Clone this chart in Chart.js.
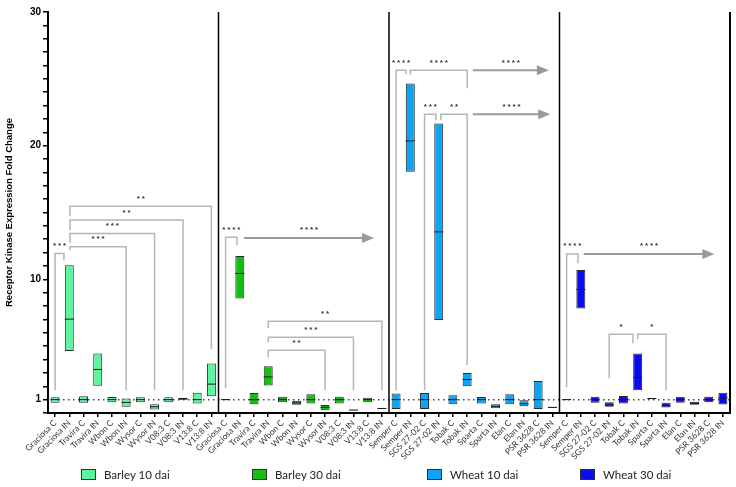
<!DOCTYPE html>
<html>
<head>
<meta charset="utf-8">
<script src="https://cdn.jsdelivr.net/npm/chart.js@4.4.0/dist/chart.umd.min.js"></script>
<style>
  html, body { margin: 0; padding: 0; background: #fff; }
  #wrap { position: relative; width: 736px; height: 487px; }
  #legend { position: absolute; left: 0; top: 468px; width: 736px; height: 14px;
            font-family: Lato, "Open Sans", sans-serif; font-size: 11.5px; color: #222; }
  .item { position: absolute; top: 0; display: flex; align-items: center; white-space: nowrap; }
  .sw { width: 13px; height: 9px; border: 1px solid #333; margin-right: 8px; }
</style>
</head>
<body>
<div id="wrap">
  <canvas id="myChart"></canvas>
  <div id="legend"></div>
</div>
<script>
const barleyCats = ['Graciosa C', 'Graciosa IN', 'Travira C', 'Travira IN', 'Wbon C', 'Wbon IN',
                    'Wysor C', 'Wysor IN', 'V08:3 C', 'V08:3 IN', 'V13:8 C', 'V13:8 IN'];
const wheatCats = ['Semper C', 'Semper IN', 'SGS 27-02 C', 'SGS 27-02 IN', 'Tobak C', 'Tobak IN',
                   'Sparta C', 'Sparta IN', 'Elan C', 'Elan IN', 'PSR 3628 C', 'PSR 3628 IN'];
const seriesNames = ['Barley 10 dai', 'Barley 30 dai', 'Wheat 10 dai', 'Wheat 30 dai'];
const seriesColors = ['#5ef5a0', '#12bf12', '#0ba5f5', '#0b0bf0'];

// min / median / max of fold change per genotype
const barley10Low  = [0.76, 4.63, 0.76, 2.03, 0.80, 0.46, 0.80, 0.27, 0.80, 1.00, 0.72, 1.26];
const barley10Med  = [1.00, 7.02, 1.00, 3.26, 1.00, 0.79, 1.00, 0.47, 1.00, 1.06, 1.00, 2.16];
const barley10High = [1.17, 11.06, 1.26, 4.46, 1.20, 1.09, 1.17, 0.66, 1.17, 1.14, 1.51, 3.71];

const barley30Low  = [0.97, 8.57, 0.66, 2.06, 0.81, 0.61, 0.72, 0.21, 0.72, 0.20, 0.81, 0.31];
const barley30Med  = [1.00, 10.44, 1.00, 2.70, 1.00, 0.76, 1.00, 0.42, 1.00, 0.22, 1.00, 0.34];
const barley30High = [1.03, 11.75, 1.49, 3.50, 1.21, 0.91, 1.41, 0.59, 1.21, 0.25, 1.15, 0.37];

const wheat10Low  = [0.30, 18.04, 0.30, 6.95, 0.66, 2.01, 0.72, 0.36, 0.66, 0.51, 0.30, 0.40];
const wheat10Med  = [1.00, 20.36, 1.00, 13.55, 1.00, 2.50, 1.00, 0.50, 1.00, 0.70, 1.00, 0.42];
const wheat10High = [1.45, 24.65, 1.50, 21.66, 1.33, 2.99, 1.20, 0.66, 1.41, 0.96, 2.40, 0.45];

const wheat30Low  = [0.98, 7.82, 0.76, 0.46, 0.72, 1.71, 1.05, 0.42, 0.76, 0.61, 0.80, 0.64];
const wheat30Med  = [1.00, 9.24, 1.00, 0.60, 1.00, 2.66, 1.08, 0.55, 1.00, 0.72, 1.00, 1.13];
const wheat30High = [1.03, 10.69, 1.21, 0.81, 1.28, 4.46, 1.12, 0.76, 1.21, 0.84, 1.21, 1.51];

const yTickLabels = [1, 10, 20, 30];

// significance brackets: x in category index, y in fold change
const brackets = [
  {x1: 0, x2: 0.62, top: 11.93, b1: 1.71, b2: 11.43, text: '***'},
  {x1: 1.05, x2: 5, top: 12.43, b1: 12.18, b2: 1.71, text: '***'},
  {x1: 1.05, x2: 7, top: 13.43, b1: 12.7, b2: 1.71, text: '***'},
  {x1: 1.05, x2: 9, top: 14.43, b1: 13.68, b2: 1.71, text: '**'},
  {x1: 1.05, x2: 11, top: 15.47, b1: 14.72, b2: 4.78, text: '**'},
  {x1: 12, x2: 12.8, top: 13.15, b1: 1.86, b2: 12.55, text: '****'},
  {x1: 15, x2: 19, top: 4.7, b1: 4.18, b2: 1.71, text: '**'},
  {x1: 15, x2: 21, top: 5.67, b1: 5.3, b2: 1.71, text: '***'},
  {x1: 15, x2: 23, top: 6.87, b1: 6.35, b2: 1.71, text: '**'},
  {x1: 24, x2: 24.7, top: 25.64, b1: 1.71, b2: 25.34, text: '****'},
  {x1: 25, x2: 29, top: 25.64, b1: 25.3, b2: 24.3, text: '****'},
  {x1: 26, x2: 26.8, top: 22.35, b1: 1.71, b2: 21.9, text: '***'},
  {x1: 27.15, x2: 29, top: 22.35, b1: 21.9, b2: 3.58, text: '**'},
  {x1: 36, x2: 36.8, top: 11.9, b1: 1.93, b2: 11.2, text: '****'},
  {x1: 39, x2: 40.67, top: 5.9, b1: 2.6, b2: 5.22, text: '*'},
  {x1: 41, x2: 43, top: 5.9, b1: 5.52, b2: 1.71, text: '*'}
];
const arrows = [
  {x1: 13.3, x2: 22.45, y: 13.1, text: '****'},
  {x1: 29.4, x2: 34.75, y: 25.64, text: '****'},
  {x1: 29.4, x2: 34.85, y: 22.35, text: '****'},
  {x1: 37.2, x2: 46.4, y: 11.9, text: '****'}
];

const labels = barleyCats.concat(barleyCats, wheatCats, wheatCats);
const lows = [barley10Low, barley30Low, wheat10Low, wheat30Low];
const meds = [barley10Med, barley30Med, wheat10Med, wheat30Med];
const highs = [barley10High, barley30High, wheat10High, wheat30High];

const datasets = [];
seriesNames.forEach((name, s) => {
  const pick = fn => labels.map((_, i) => (i >= s * 12 && i < s * 12 + 12) ? fn(i - s * 12) : null);
  datasets.push({
    type: 'bar',
    label: name,
    data: pick(k => [lows[s][k], highs[s][k]]),
    backgroundColor: seriesColors[s],
    borderColor: '#2a2a2a',
    borderWidth: 1,
    borderSkipped: false,
    grouped: false,
    barPercentage: 0.63,
    categoryPercentage: 1,
    order: 2
  });
  datasets.push({
    type: 'line',
    label: name + ' median',
    data: pick(k => meds[s][k]),
    showLine: false,
    pointStyle: 'line',
    pointRadius: 4.5,
    pointHoverRadius: 4.5,
    pointBorderColor: '#1a1a1a',
    pointBorderWidth: 1,
    order: 1
  });
});

function xPix(x, v) {
  const i = Math.floor(v);
  const step = x.getPixelForValue(1) - x.getPixelForValue(0);
  return x.getPixelForValue(i) + (v - i) * step;
}

function stars(ctx, text, cx, lineY) {
  ctx.fillStyle = '#333';
  ctx.font = 'bold 8px "Liberation Sans"';
  ctx.textAlign = 'center';
  ctx.textBaseline = 'alphabetic';
  const n = text.length;
  for (let k = 0; k < n; k++) {
    ctx.fillText('*', cx + (k - (n - 1) / 2) * 5, lineY + 1.5);
  }
}

const annot = {
  id: 'annot',
  beforeDatasetsDraw(chart) {
    const {ctx, chartArea: a, scales: {y}} = chart;
    const yy = y.getPixelForValue(1);
    ctx.save();
    ctx.strokeStyle = '#444';
    ctx.lineWidth = 1.5;
    ctx.setLineDash([1.5, 3.5]);
    ctx.beginPath();
    ctx.moveTo(a.left, yy);
    ctx.lineTo(a.right, yy);
    ctx.stroke();
    ctx.restore();
  },
  afterDatasetsDraw(chart) {
    const {ctx, scales: {x, y}} = chart;
    ctx.save();
    ctx.strokeStyle = '#b5b5b5';
    ctx.lineWidth = 1.5;
    brackets.forEach(b => {
      const px1 = xPix(x, b.x1), px2 = xPix(x, b.x2), pt = y.getPixelForValue(b.top);
      ctx.beginPath();
      ctx.moveTo(px1, y.getPixelForValue(b.b1));
      ctx.lineTo(px1, pt);
      ctx.lineTo(px2, pt);
      ctx.lineTo(px2, y.getPixelForValue(b.b2));
      ctx.stroke();
      stars(ctx, b.text, (px1 + px2) / 2, pt - 7);
    });
    arrows.forEach(r => {
      const px1 = xPix(x, r.x1), px2 = xPix(x, r.x2), py = y.getPixelForValue(r.y);
      ctx.strokeStyle = '#9a9a9a';
      ctx.fillStyle = '#9a9a9a';
      ctx.lineWidth = 2;
      ctx.beginPath();
      ctx.moveTo(px1, py);
      ctx.lineTo(px2 - 8, py);
      ctx.stroke();
      ctx.beginPath();
      ctx.moveTo(px2, py);
      ctx.lineTo(px2 - 12, py - 5);
      ctx.lineTo(px2 - 12, py + 5);
      ctx.closePath();
      ctx.fill();
      stars(ctx, r.text, (px1 + px2) / 2, py - 7);
    });
    ctx.restore();
  },
  afterDraw(chart) {
    const {ctx, chartArea: a, scales: {x}} = chart;
    ctx.save();
    ctx.strokeStyle = '#000';
    ctx.lineWidth = 1.5;
    [12, 24, 36].forEach(i => {
      const px = (x.getPixelForValue(i - 1) + x.getPixelForValue(i)) / 2;
      ctx.beginPath();
      ctx.moveTo(px, a.top);
      ctx.lineTo(px, a.bottom);
      ctx.stroke();
    });
    ctx.lineWidth = 2;
    ctx.beginPath();
    ctx.moveTo(a.right, a.top);
    ctx.lineTo(a.right, a.bottom + 1);
    ctx.stroke();
    ctx.restore();
  }
};

const ctx = document.getElementById('myChart');

new Chart(ctx, {
  type: 'bar',
  data: { labels: labels, datasets: datasets },
  plugins: [annot],
  options: {
    responsive: true,
    maintainAspectRatio: false,
    animation: false,
    layout: { padding: { top: 12, right: 6, bottom: 0, left: 0 } },
    plugins: {
      legend: { display: false },
      tooltip: { enabled: false }
    },
    scales: {
      x: {
        afterFit: s => { s.height = 74; },
        grid: { offset: false, drawOnChartArea: false, tickLength: 4, color: '#000', lineWidth: 1.5 },
        border: { color: '#000', width: 2 },
        ticks: {
          autoSkip: false, maxRotation: 45, minRotation: 45, padding: 1,
          color: '#333', font: { family: 'Lato', size: 8.5 }
        }
      },
      y: {
        min: 0,
        max: 30,
        afterFit: s => { s.width = 48; },
        grid: { drawOnChartArea: false, tickLength: 5, color: '#000', lineWidth: 1.5 },
        border: { color: '#000', width: 2 },
        ticks: {
          stepSize: 1, autoSkip: false, padding: 2, color: '#000',
          font: { family: 'Liberation Sans', weight: 'bold', size: 10 },
          callback: v => yTickLabels.includes(v) ? String(v) : ''
        },
        title: {
          display: true,
          text: 'Receptor Kinase Expression Fold Change',
          color: '#000',
          padding: { top: 4, bottom: 0 },
          font: { family: 'Liberation Sans', weight: 'bold', size: 9.5 }
        }
      }
    }
  }
});

const legendX = [81, 252, 427, 580];
const legendBox = document.getElementById('legend');
seriesNames.forEach((name, s) => {
  const item = document.createElement('div');
  item.className = 'item';
  item.style.left = legendX[s] + 'px';
  const sw = document.createElement('span');
  sw.className = 'sw';
  sw.style.background = seriesColors[s];
  const tx = document.createElement('span');
  tx.textContent = name;
  item.appendChild(sw);
  item.appendChild(tx);
  legendBox.appendChild(item);
});
</script>
</body>
</html>
